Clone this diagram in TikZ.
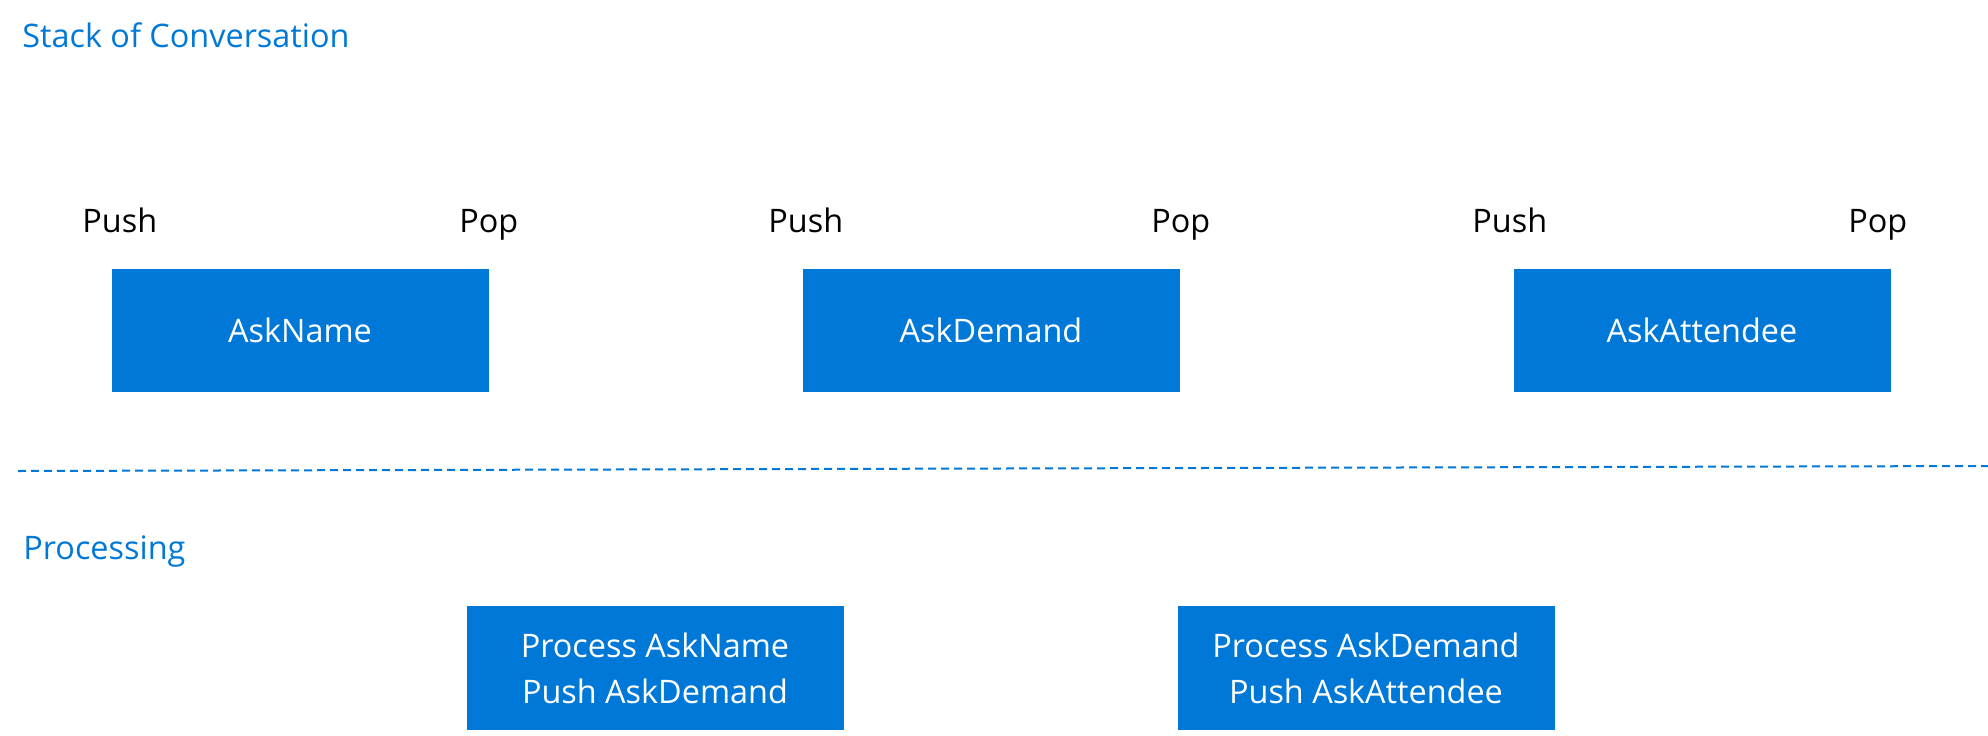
\documentclass[tikz,border=0pt]{standalone}
\usepackage{fontspec}
\setmainfont{Open Sans}
\definecolor{msblue}{HTML}{0078D7}
\begin{document}
\begin{tikzpicture}[x=0.5pt,y=-0.5pt,
        every node/.style={inner sep=0pt,font=\fontsize{16.2}{23}\selectfont},
        stackbox/.style={rectangle,fill=msblue,text=white,minimum width=188.5pt,minimum height=61.5pt,align=center},
        heading/.style={text=msblue,anchor=base west},
        oplabel/.style={text=black,anchor=base west},
        divider/.style={draw=msblue,line width=1pt,dash pattern=on 4pt off 2.5pt}]
        \useasboundingbox (0,0) rectangle (1988,735);
        % Stack row
        \node[heading] (stacktitle) at (22,47) {Stack of Conversation};
        \node[stackbox] (askname) at (300,330) {AskName};
        \node[stackbox] (askdemand) at (991,330) {AskDemand};
        \node[stackbox] (askattendee) at (1702,330) {AskAttendee};
        \node[oplabel] (pusha) at (82,232) {Push};
        \node[oplabel] (popa) at (459,232) {Pop};
        \node[oplabel] (pushb) at (768,232) {Push};
        \node[oplabel] (popb) at (1151,232) {Pop};
        \node[oplabel] (pushc) at (1472,232) {Push};
        \node[oplabel] (popc) at (1848,232) {Pop};
        % Divider
        \coordinate (divleft) at (18,471);
        \coordinate (divright) at (1988,466);
        \draw[divider] (divleft) -- (divright);
        % Processing row
        \node[heading] (proctitle) at (23,559) {Processing};
        \node[stackbox,minimum height=62pt] (procname) at (655,668) {Process AskName\\Push AskDemand};
        \node[stackbox,minimum height=62pt] (procdemand) at (1366,668) {Process AskDemand\\Push AskAttendee};
    \end{tikzpicture}
\end{document}
